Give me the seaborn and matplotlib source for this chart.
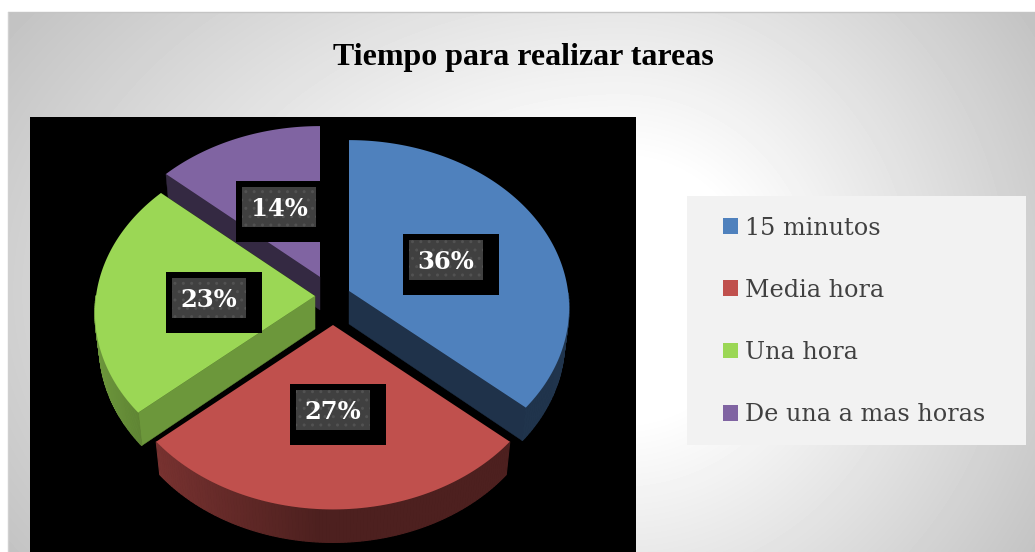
import numpy as np
import matplotlib
matplotlib.use("Agg")
import matplotlib.pyplot as plt
from matplotlib.patches import Rectangle, Patch
import seaborn as sns

title = "Tiempo para realizar tareas"
categories = ["15 minutos", "Media hora", "Una hora", "De una a mas horas"]
shares = [36.4, 27.2, 22.9, 13.5]

colors = ["#4F81BD", "#C0504D", "#9BD755", "#8064A2"]
apex = [(349, 291), (333, 325), (315, 296), (320, 277)]
label_boxes = [(409, 240), (296, 390), (172, 278), (242, 187)]
BOX_W, BOX_H = 74, 40
DEPTH = 33
RX, RY, K = 219, 166, 0.10
W, H = 1035, 552

sns.set_theme(style="white")
fig = plt.figure(figsize=(W / 100, H / 100), dpi=100)

# background gradient
bg = fig.add_axes([0, 0, 1, 1])
yy, xx = np.mgrid[0:H, 0:W]
dx = (xx - 620.0) / np.where(xx < 620, 1.47, 1.0)
d = np.hypot(dx, yy - 290.0)
g = np.clip(1.0 - 0.24 * (d - 130) / 370.0, 0.74, 1.0)
bg.imshow(g, cmap="gray", vmin=0, vmax=1, extent=(0, W, H, 0), aspect="auto", zorder=0)
bg.set_xlim(0, W)
bg.set_ylim(H, 0)
bg.axis("off")
bg.add_patch(Rectangle((0, 0), W, 12, fc="white", ec="none", zorder=1))
bg.add_patch(Rectangle((0, 0), 8, H, fc="white", ec="none", zorder=1))
bg.plot([8, W], [12, 12], color="#c4c4c4", lw=1, zorder=2)
bg.plot([8, 8], [12, H], color="#d0d0d0", lw=1, zorder=2)
bg.add_patch(Rectangle((687, 196), 339, 249, fc="#F2F2F2", ec="none", zorder=1))
bg.text(523, 58, title, ha="center", va="center", family="Liberation Serif",
        fontweight="bold", fontsize=23, color="black", zorder=3)

# plot area
ax = fig.add_axes([30 / W, 0, (636 - 30) / W, (552 - 117) / H])
ax.set_xlim(30, 636)
ax.set_ylim(552, 117)
ax.set_facecolor("black")
ax.set_xticks([])
ax.set_yticks([])
for s in ax.spines.values():
    s.set_visible(False)


def project(theta, cx, cy):
    u, v = np.sin(theta), np.cos(theta)
    s = 1.0 / (1.0 + K * v)
    return cx + RX * u * s, cy - RY * v * s


def scale(col, f):
    rgb = np.array(matplotlib.colors.to_rgb(col))
    return tuple(np.clip(rgb * f, 0, 1))


def lower(x, cx):
    return cx + (x - cx) * 0.98


edges = np.radians(np.concatenate([[0], np.cumsum(shares)]) / sum(shares) * 360)
spans = list(zip(edges[:-1], edges[1:]))
layer = {3: 1, 2: 2, 0: 3, 1: 4}


def radial_wall(theta, cx, cy, col, f, z):
    ex, ey = project(theta, cx, cy)
    c = scale(col, f)
    ax.fill([cx, ex, lower(ex, cx), cx], [cy, ey, ey + DEPTH, cy + DEPTH],
            facecolor=c, edgecolor=c, lw=0.3, zorder=z)


for i in [3, 2, 0, 1]:
    t0, t1 = spans[i]
    cx, cy = apex[i]
    col = colors[i]
    z = layer[i]
    th = np.linspace(t0, t1, 121)
    xs, ys = project(th, cx, cy)
    # radial walls
    if i == 0:
        radial_wall(t1, cx, cy, col, 0.39, z)
    if i == 2:
        radial_wall(t1, cx, cy, col, 0.25, z)
        radial_wall(t0, cx, cy, col, 0.70, z)
    if i == 3:
        radial_wall(t0, cx, cy, col, 0.41, z)
    # outer wall, shaded along the arc
    for a in range(120):
        if np.cos(th[a]) > 0.0:
            continue
        f = 0.40 + 0.32 * np.clip(-np.sin(th[a]) - 0.05, 0, 1)
        c = scale(col, f)
        ax.fill([xs[a], xs[a + 1], lower(xs[a + 1], cx), lower(xs[a], cx)],
                [ys[a], ys[a + 1], ys[a + 1] + DEPTH, ys[a] + DEPTH],
                facecolor=c, edgecolor=c, lw=0.8, zorder=z)
    # top surface
    ax.fill(np.r_[cx, xs], np.r_[cy, ys], color=col, lw=0, zorder=z + 0.5)

for (bx, by), v in zip(label_boxes, shares):
    ax.add_patch(Rectangle((bx - 6, by - 6), BOX_W + 22, BOX_H + 21, fc="black", ec="none", zorder=6))
    ax.add_patch(Rectangle((bx, by), BOX_W, BOX_H, fc="#404040", ec="#525252", hatch="..", lw=0, zorder=7))
    ax.text(bx + BOX_W / 2, by + BOX_H / 2 + 1.5, f"{v:.0f}%", ha="center", va="center", color="white",
            family="DejaVu Serif", fontweight="bold", fontsize=17.5, zorder=8)

handles = [Patch(fc=c, ec="none") for c in colors]
leg = fig.legend(handles, categories, loc="upper left", bbox_to_anchor=(713 / W, 1 - 207 / H),
                 frameon=False, prop={"family": "DejaVu Serif", "size": 17.2}, labelcolor="#404040",
                 handlelength=0.65, handleheight=0.65, handletextpad=0.28,
                 labelspacing=1.64, borderpad=0.4, borderaxespad=0)

fig.savefig("out.png", dpi=100)
